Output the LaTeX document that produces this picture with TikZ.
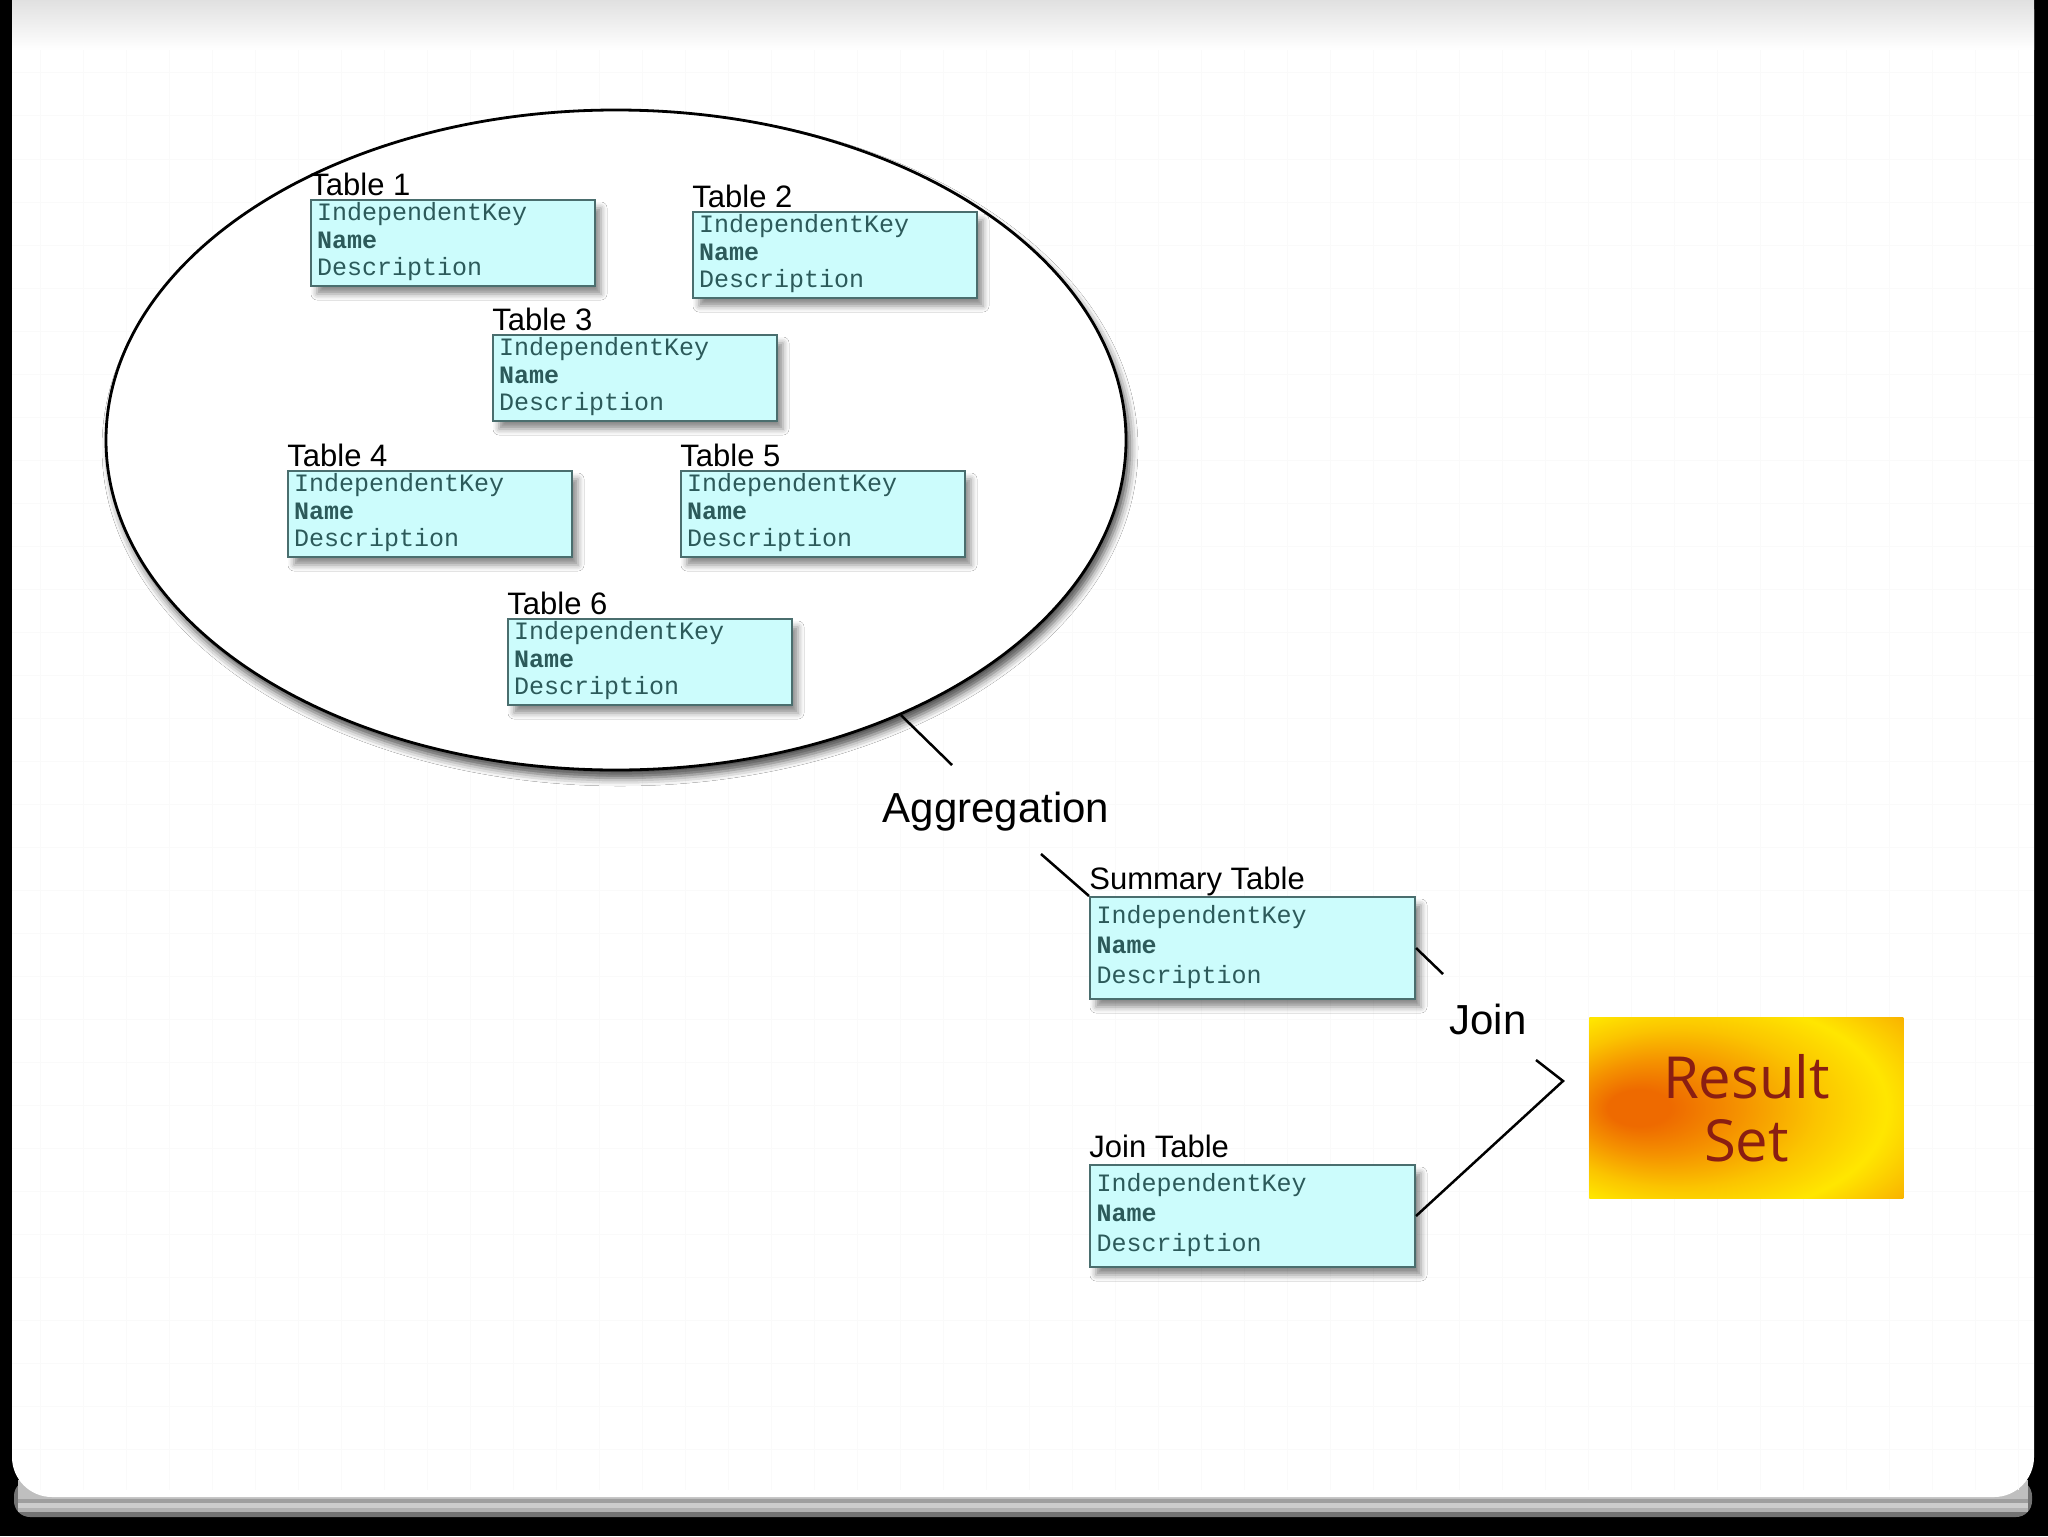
\documentclass[tikz,border=0pt]{standalone}
\usepackage{fontspec}
\setmainfont{Liberation Sans}
\newfontfamily\monof{Liberation Mono}
\newfontfamily\resf{Open Sans}
\usetikzlibrary{shapes.geometric,shadows.blur,calc}

\definecolor{tblfill}{HTML}{CCFCFC}
\definecolor{tbldraw}{HTML}{4A6E6E}
\definecolor{tbltext}{HTML}{2C5A5A}
\definecolor{restext}{HTML}{8A1E12}
\definecolor{rhot}{HTML}{EE6A00}
\definecolor{rorange}{HTML}{F59200}
\definecolor{ryellow}{HTML}{FFE600}

\pgfdeclareradialshading{resshade}{\pgfpoint{-19bp}{0bp}}{%
  color(0bp)=(rhot); color(5bp)=(rhot); color(13bp)=(rorange); color(22bp)=(ryellow!60!rorange);
  color(30bp)=(ryellow); color(37bp)=(ryellow!50!rorange); color(44bp)=(rorange); color(50bp)=(rorange)}

\tikzset{
  tbl/.style={draw=tbldraw, line width=1pt, fill=tblfill, anchor=north west,
    minimum width=142pt, minimum height=43pt, text width=136pt, align=left,
    inner xsep=3pt, inner ysep=1pt, text=tbltext,
    font=\monof\fontsize{12.5}{13.75}\selectfont,
    blur shadow={shadow xshift=3pt, shadow yshift=-4pt, shadow blur radius=3pt, shadow opacity=45}},
  tblbig/.style={tbl, minimum width=162.5pt, minimum height=51pt, text width=156pt,
    font=\monof\fontsize{12.5}{15}\selectfont},
  lbl/.style={anchor=base west, inner sep=0pt, font=\fontsize{15.5}{16}\selectfont},
  bigtxt/.style={font=\fontsize{21}{24}\selectfont, inner sep=0pt},
  conn/.style={line width=1.25pt, black}
}

\newcommand{\tabrows}{IndependentKey\\\textbf{Name}\\Description\rule[-4pt]{0pt}{0pt}}

\begin{document}
\begin{tikzpicture}[x=0.5pt,y=-0.5pt]
\useasboundingbox (0,0) rectangle (2048,1536);
% frame and page
\fill[black] (0,0) rectangle (2048,1536);
\fill[black!55, rounded corners=8] (14,1480) rectangle (2032,1517);
\fill[black!30] (18,1480) rectangle (2028,1512);
\fill[black!20] (18,1480) rectangle (2028,1508);
\fill[black!38] (18,1480) rectangle (2028,1503);
\fill[black!25] (18,1480) rectangle (2028,1499);
\fill[white, rounded corners=20] (12,-30) rectangle (2034,1497);
% faint grid
\foreach \gx in {40,83,...,2034} \draw[black!2, line width=0.5pt] (\gx,0) -- (\gx,1490);
\foreach \gy in {30,73,...,1490} \draw[black!2, line width=0.5pt] (12,\gy) -- (2034,\gy);
\shade[top color=black!12, bottom color=white] (12,0) rectangle (2034,50);

% ellipse
\node[ellipse, draw, line width=1.4pt, fill=white, minimum width=510pt, minimum height=330pt, inner sep=0pt,
  blur shadow={shadow xshift=2pt, shadow yshift=-4pt, shadow blur radius=4pt, shadow opacity=70}] (cloud) at (616,440) {};

% tables inside
\node[tbl] (t1) at (310,199) {\tabrows};
\node[tbl] (t2) at (692,211) {\tabrows};
\node[tbl] (t3) at (492,334) {\tabrows};
\node[tbl] (t4) at (287,470) {\tabrows};
\node[tbl] (t5) at (680,470) {\tabrows};
\node[tbl] (t6) at (507,618) {\tabrows};
\node[lbl] (t1l) at ([yshift=2pt]t1.north west) {Table 1};
\node[lbl] (t2l) at ([yshift=2pt]t2.north west) {Table 2};
\node[lbl] (t3l) at ([yshift=2pt]t3.north west) {Table 3};
\node[lbl] (t4l) at ([yshift=2pt]t4.north west) {Table 4};
\node[lbl] (t5l) at ([yshift=2pt]t5.north west) {Table 5};
\node[lbl] (t6l) at ([yshift=2pt]t6.north west) {Table 6};

% summary and join tables
\node[tblbig] (st) at (1089,896) {\tabrows};
\node[tblbig] (jt) at (1089,1164) {\tabrows};
\node[lbl] (stl) at ([yshift=3.5pt]st.north west) {Summary Table};
\node[lbl] (jtl) at ([yshift=3.5pt]jt.north west) {Join Table};

% result set
\node[shade, shading=resshade, anchor=north west, minimum width=157pt, minimum height=90.5pt,
  inner sep=0pt, text=restext, align=center, font=\resf\fontsize{29}{31.5}\selectfont] (res) at (1589,1017) {Result\\Set};

% labels
\node[bigtxt] (agg) at (996,812) {Aggregation};
\node[bigtxt] (join) at (1488,1019) {Join};

% connectors
\coordinate (a1) at (952,765);
\coordinate (a2) at (1041,854);
\coordinate (j1) at (1443,974);
\coordinate (j2) at (1536,1060);
\coordinate (j3) at (1563,1081);
\draw[conn] (cloud.-44) -- (a1);
\draw[conn] (a2) -- (st.north west);
\draw[conn] (st.east) -- (j1);
\draw[conn] (j2) -- (j3) -- (jt.east);
\end{tikzpicture}
\end{document}
